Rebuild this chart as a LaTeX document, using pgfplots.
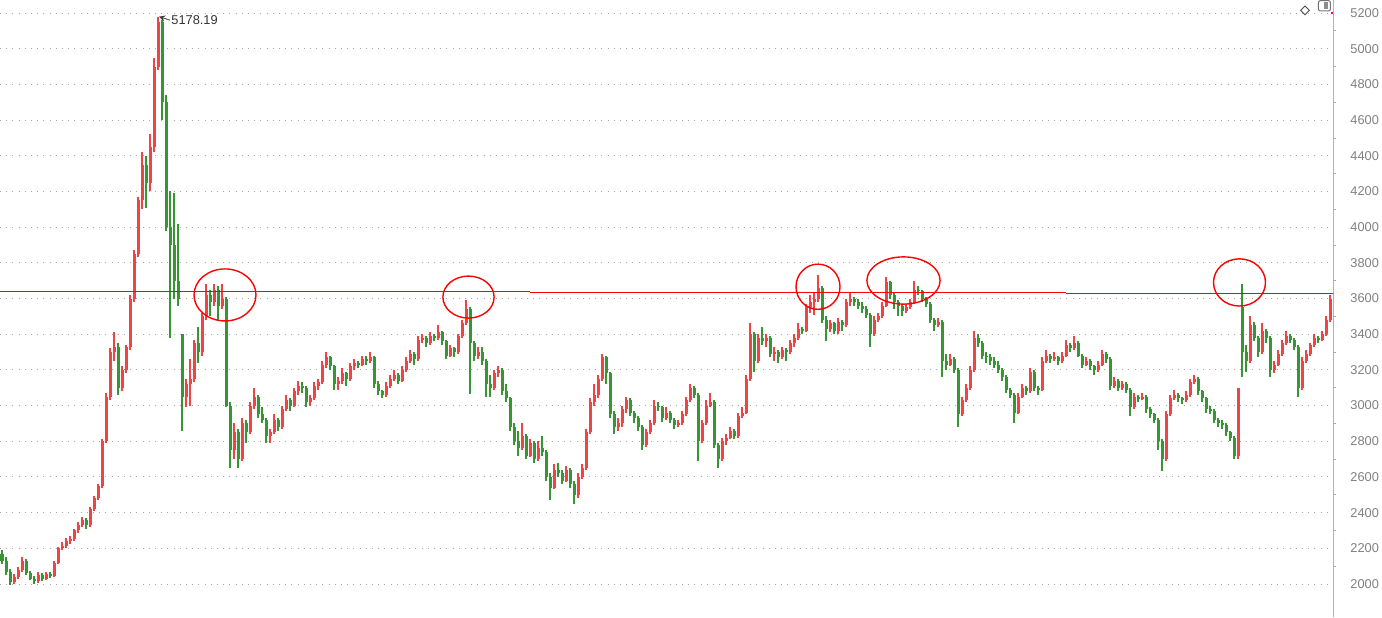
\documentclass[border=0pt]{standalone}
\usepackage{fontspec}
\setmainfont{Liberation Sans}
\usepackage{pgfplots}
\usepackage{pgfplotstable}
\pgfplotsset{compat=1.18}
\definecolor{upc}{RGB}{240,68,68}
\definecolor{dnc}{RGB}{54,150,50}
\definecolor{lab}{RGB}{128,128,128}
\pgfplotstableread{
x o h l c
2 2170 2190 2110 2130
6 2130 2150 2050 2070
10 2070 2085 1995 2010
14 2010 2055 2000 2040
18 2040 2095 2030 2080
22 2080 2150 2070 2130
26 2130 2140 2050 2060
30 2060 2075 2020 2030
34 2030 2045 2000 2015
38 2015 2065 2005 2050
42 2050 2060 2015 2030
46 2030 2070 2020 2055
50 2055 2065 2035 2045
54 2045 2130 2040 2120
58 2120 2210 2110 2200
62 2200 2235 2190 2215
66 2215 2255 2200 2240
70 2240 2270 2225 2250
74 2250 2310 2240 2300
78 2300 2345 2285 2330
82 2330 2375 2320 2360
86 2360 2370 2310 2330
90 2330 2430 2320 2420
94 2420 2495 2410 2480
98 2480 2560 2470 2550
102 2550 2810 2540 2800
106 2800 3070 2790 3050
110 3050 3320 3030 3300
114 3300 3410 3250 3330
118 3330 3350 3060 3100
122 3100 3220 3080 3200
126 3200 3340 3180 3330
130 3330 3620 3310 3600
134 3600 3870 3580 3850
138 3850 4170 3830 4150
142 4150 4420 4100 4350
146 4350 4400 4110 4250
150 4250 4520 4200 4450
154 4450 4950 4420 4900
158 4900 5178 4880 5150
162 5150 5160 4600 4700
166 4700 4740 3980 4000
170 4000 4200 3380 3900
174 3900 4190 3600 3700
178 3700 4020 3560 3600
182 3400 3400 2860 3050
186 3050 3150 2990 3120
190 3120 3260 3000 3150
194 3150 3370 3130 3350
198 3350 3440 3240 3300
202 3300 3520 3280 3500
206 3500 3680 3480 3620
210 3620 3650 3500 3580
214 3580 3680 3560 3650
218 3650 3670 3480 3560
222 3560 3680 3540 3600
226 3600 3610 2990 3000
230 3000 3020 2650 2750
234 2750 2900 2700 2850
238 2850 2870 2650 2700
242 2700 2930 2690 2900
246 2900 2920 2790 2850
250 2850 3020 2840 3000
254 3000 3100 2980 3050
258 3050 3060 2930 2950
262 2950 2990 2900 2920
266 2920 2930 2790 2830
270 2830 2870 2790 2850
274 2850 2950 2840 2920
278 2920 2930 2860 2880
282 2880 3000 2870 2980
286 2980 3060 2970 3030
290 3030 3040 2970 3000
294 3000 3100 2990 3080
298 3080 3140 3060 3110
302 3110 3130 3070 3100
306 3100 3110 2990 3020
310 3020 3060 3000 3040
314 3040 3130 3030 3110
318 3110 3150 3090 3130
322 3130 3250 3120 3230
326 3230 3300 3210 3270
330 3270 3280 3200 3220
334 3220 3230 3090 3120
338 3120 3160 3090 3140
342 3140 3210 3120 3180
346 3180 3190 3110 3150
350 3150 3240 3140 3220
354 3220 3260 3200 3240
358 3240 3250 3210 3230
362 3230 3280 3220 3260
366 3260 3280 3230 3250
370 3250 3300 3240 3270
374 3270 3280 3100 3120
378 3120 3140 3060 3080
382 3080 3090 3040 3060
386 3060 3130 3050 3110
390 3110 3170 3100 3150
394 3150 3200 3140 3170
398 3170 3180 3120 3140
402 3140 3220 3130 3200
406 3200 3270 3190 3250
410 3250 3310 3240 3290
414 3290 3300 3230 3260
418 3260 3390 3250 3370
422 3370 3400 3350 3380
426 3380 3390 3330 3350
430 3350 3410 3340 3390
434 3390 3400 3360 3380
438 3380 3450 3370 3410
442 3410 3420 3340 3360
446 3360 3370 3260 3280
450 3280 3340 3270 3320
454 3320 3330 3270 3300
458 3300 3400 3290 3390
462 3390 3480 3380 3460
466 3460 3590 3450 3540
470 3540 3550 3065 3350
474 3350 3360 3250 3280
478 3280 3330 3260 3300
482 3300 3330 3230 3250
486 3250 3260 3050 3120
490 3120 3170 3050 3100
494 3100 3200 3090 3180
498 3180 3220 3160 3200
502 3200 3210 3060 3080
506 3080 3120 3020 3040
510 3040 3050 2860 2880
514 2880 2900 2780 2800
518 2800 2860 2720 2760
522 2760 2900 2750 2830
526 2830 2840 2700 2720
530 2720 2810 2710 2790
534 2790 2800 2680 2700
538 2700 2800 2690 2760
542 2760 2830 2720 2740
546 2740 2750 2580 2600
550 2600 2620 2470 2540
554 2540 2670 2530 2640
558 2640 2680 2600 2620
562 2620 2640 2560 2580
566 2580 2660 2570 2640
570 2640 2650 2540 2560
574 2560 2580 2450 2500
578 2500 2620 2480 2600
582 2600 2670 2590 2650
586 2650 2870 2640 2850
590 2850 3040 2840 3020
594 3020 3120 3000 3060
598 3060 3170 3040 3150
602 3150 3290 3140 3270
606 3270 3280 3120 3180
610 3180 3190 2930 2950
614 2950 2970 2840 2880
618 2880 2930 2860 2900
622 2900 3000 2880 2980
626 2980 3050 2960 3030
630 3030 3040 2940 2960
634 2960 2970 2900 2930
638 2930 2940 2860 2880
642 2880 2890 2750 2780
646 2780 2870 2770 2850
650 2850 2920 2840 2900
654 2900 3030 2890 3000
658 3000 3020 2970 2990
662 2990 3000 2910 2930
666 2930 2990 2920 2960
670 2960 2970 2900 2920
674 2920 2930 2870 2890
678 2890 2920 2880 2900
682 2900 2970 2890 2950
686 2950 3050 2940 3030
690 3030 3120 3020 3100
694 3100 3110 3040 3060
698 3060 3070 2690 2800
702 2800 2920 2790 2900
706 2900 3030 2890 3000
710 3000 3070 2990 3020
714 3020 3030 2760 2780
718 2780 2790 2650 2700
722 2700 2820 2690 2800
726 2800 2840 2780 2820
730 2820 2880 2810 2860
734 2860 2870 2810 2830
738 2830 2960 2820 2940
742 2940 2990 2930 2960
746 2960 3170 2950 3150
750 3150 3460 3140 3400
754 3400 3410 3190 3250
758 3250 3400 3240 3380
762 3380 3440 3340 3360
766 3360 3400 3330 3380
770 3380 3390 3270 3290
774 3290 3330 3250 3300
778 3300 3310 3240 3270
782 3270 3330 3260 3310
786 3310 3320 3250 3300
790 3300 3370 3290 3350
794 3350 3400 3330 3380
798 3380 3460 3370 3430
802 3430 3440 3400 3420
806 3420 3570 3410 3550
810 3550 3620 3520 3580
814 3580 3630 3510 3600
818 3600 3730 3580 3660
822 3660 3670 3460 3480
826 3480 3500 3360 3430
830 3430 3480 3410 3460
834 3460 3470 3400 3420
838 3420 3490 3400 3470
842 3470 3480 3420 3450
846 3450 3600 3440 3580
850 3580 3630 3560 3600
854 3600 3610 3560 3580
858 3580 3600 3540 3560
862 3560 3580 3520 3540
866 3540 3560 3490 3510
870 3510 3520 3330 3400
874 3400 3500 3390 3480
878 3480 3520 3470 3500
882 3500 3580 3490 3560
886 3560 3720 3550 3690
890 3690 3700 3600 3620
894 3620 3630 3540 3580
898 3580 3590 3500 3560
902 3560 3570 3500 3530
906 3530 3570 3520 3550
910 3550 3600 3540 3580
914 3580 3700 3570 3650
918 3650 3670 3620 3640
922 3640 3650 3580 3600
926 3600 3610 3550 3570
930 3570 3580 3460 3480
934 3480 3490 3420 3450
938 3450 3490 3440 3470
942 3470 3480 3160 3250
946 3250 3290 3200 3230
950 3230 3290 3220 3260
954 3260 3270 3180 3200
958 3200 3210 2880 2950
962 2950 3050 2940 3030
966 3030 3120 3020 3100
970 3100 3220 3090 3200
974 3200 3420 3190 3380
978 3380 3400 3330 3350
982 3350 3360 3260 3280
986 3280 3300 3240 3270
990 3270 3290 3230 3250
994 3250 3270 3210 3230
998 3230 3250 3180 3200
1002 3200 3210 3140 3160
1006 3160 3170 3070 3090
1010 3090 3100 3040 3060
1014 3060 3070 2900 2960
1018 2960 3070 2950 3050
1022 3050 3120 3040 3100
1026 3100 3110 3060 3080
1030 3080 3210 3070 3190
1034 3190 3200 3080 3100
1038 3100 3110 3060 3090
1042 3090 3270 3080 3250
1046 3250 3310 3240 3280
1050 3280 3290 3240 3260
1054 3260 3300 3250 3270
1058 3270 3280 3230 3250
1062 3250 3300 3240 3280
1066 3280 3370 3270 3340
1070 3340 3350 3300 3320
1074 3320 3390 3310 3350
1078 3350 3360 3270 3280
1082 3280 3290 3210 3230
1086 3230 3270 3220 3250
1090 3250 3260 3200 3220
1094 3220 3230 3170 3200
1098 3200 3250 3190 3230
1102 3230 3310 3220 3290
1106 3290 3300 3240 3260
1110 3260 3270 3090 3110
1114 3110 3160 3100 3140
1118 3140 3150 3080 3100
1122 3100 3140 3090 3120
1126 3120 3130 3070 3090
1130 3090 3100 2940 2990
1134 2990 3070 2980 3050
1138 3050 3060 3020 3040
1142 3040 3070 3030 3050
1146 3050 3060 2960 2980
1150 2980 2990 2930 2950
1154 2950 2960 2900 2920
1158 2920 2930 2750 2800
1162 2800 2810 2636 2700
1166 2700 2970 2690 2950
1170 2950 3060 2940 3040
1174 3040 3090 3030 3060
1178 3060 3070 3020 3040
1182 3040 3050 3010 3030
1186 3030 3080 3020 3060
1190 3060 3150 3050 3130
1194 3130 3170 3120 3150
1198 3150 3160 3060 3080
1202 3080 3090 3020 3040
1206 3040 3050 2960 2980
1210 2980 3000 2950 2970
1214 2970 2980 2900 2920
1218 2920 2930 2880 2900
1222 2900 2920 2870 2890
1226 2890 2900 2830 2850
1230 2850 2860 2800 2820
1234 2820 2830 2700 2720
1238 2720 3100 2700 3100
1242 3550 3682 3160 3300
1246 3300 3340 3190 3250
1250 3250 3500 3240 3450
1254 3450 3470 3360 3380
1258 3380 3390 3270 3300
1262 3300 3460 3290 3420
1266 3420 3430 3350 3380
1270 3380 3390 3160 3200
1274 3200 3250 3180 3230
1278 3230 3310 3220 3290
1282 3290 3370 3280 3350
1286 3350 3420 3340 3390
1290 3390 3400 3350 3370
1294 3370 3380 3310 3330
1298 3330 3340 3047 3100
1302 3100 3270 3090 3250
1306 3250 3310 3240 3290
1310 3290 3350 3280 3340
1314 3340 3400 3330 3380
1318 3380 3390 3350 3370
1322 3370 3420 3360 3400
1326 3400 3500 3390 3480
1330 3480 3620 3470 3600
}\candles
\begin{document}
\begin{tikzpicture}
\begin{axis}[
  at={(0,0)}, anchor=south west,
  scale only axis, width=666.5pt, height=308.5pt,
  xmin=0, xmax=1333, ymin=1815, ymax=5273,
  clip=false,
  axis x line=none, axis y line*=right,
  axis line style={draw=black!30, line width=0.5pt},
  ytick={2000,2200,...,5200},
  minor y tick num=1,
  tick align=outside,
  major tick length=0pt, minor tick length=1.6pt,
  tick style={black!35, line width=0.4pt},
  ymajorgrids,
  major grid style={black!35, line width=0.45pt, dash pattern=on 0.5pt off 2.6pt},
  yticklabel style={font=\fontsize{6.4}{7}\selectfont, text=lab, anchor=west, inner sep=0pt, xshift=8.5pt},
  /pgf/number format/1000 sep={},
  /pgf/number format/assume math mode=true,
  unbounded coords=discard,
]
% wicks
\addplot[draw=none, mark=none,
  restrict expr to domain={\thisrow{c}-\thisrow{o}}{0:100000},
  error bars/.cd, y dir=both, y explicit, error mark=none,
  error bar style={draw=upc, solid, line width=0.6pt}]
  table[x=x, y expr={(\thisrow{h}+\thisrow{l})/2}, y error expr={(\thisrow{h}-\thisrow{l})/2}] {\candles};
\addplot[draw=none, mark=none,
  restrict expr to domain={\thisrow{c}-\thisrow{o}}{-100000:-0.5},
  error bars/.cd, y dir=both, y explicit, error mark=none,
  error bar style={draw=dnc, solid, line width=0.6pt}]
  table[x=x, y expr={(\thisrow{h}+\thisrow{l})/2}, y error expr={(\thisrow{h}-\thisrow{l})/2}] {\candles};
% bodies
\addplot[draw=none, mark=none,
  restrict expr to domain={\thisrow{c}-\thisrow{o}}{0:100000},
  error bars/.cd, y dir=both, y explicit, error mark=none,
  error bar style={draw=upc, solid, line width=1.5pt}]
  table[x=x, y expr={(\thisrow{o}+\thisrow{c})/2}, y error expr={abs(\thisrow{c}-\thisrow{o})/2}] {\candles};
\addplot[draw=none, mark=none,
  restrict expr to domain={\thisrow{c}-\thisrow{o}}{-100000:-0.5},
  error bars/.cd, y dir=both, y explicit, error mark=none,
  error bar style={draw=dnc, solid, line width=1.5pt}]
  table[x=x, y expr={(\thisrow{o}+\thisrow{c})/2}, y error expr={abs(\thisrow{c}-\thisrow{o})/2}] {\candles};
% resistance line
\addplot[red, line width=0.55pt] coordinates {(0,3638) (530,3638)};
\addplot[red, line width=0.55pt] coordinates {(530,3635) (1066,3635)};
\addplot[red, line width=0.55pt] coordinates {(1066,3630) (1333,3630)};
% circles
\draw[red, line width=0.7pt] (axis cs:225,3620) ellipse [x radius=15.5pt, y radius=13pt];
\draw[red, line width=0.7pt] (axis cs:468.5,3608) ellipse [x radius=12.8pt, y radius=10.5pt];
\draw[red, line width=0.7pt] (axis cs:818,3666) ellipse [x radius=11pt, y radius=11.3pt];
\draw[red, line width=0.7pt] (axis cs:903.5,3701) ellipse [x radius=18.3pt, y radius=11.8pt];
\draw[red, line width=0.7pt] (axis cs:1239.5,3690) ellipse [x radius=13pt, y radius=11.8pt];
% peak label
\draw[black!75, line width=0.4pt, ->, >=stealth] (axis cs:170,5160) -- (axis cs:159,5180);
\node[anchor=west, inner sep=0pt, font=\fontsize{6.4}{7}\selectfont, text=black!80] at (axis cs:171,5161) {5178.19};
\end{axis}
% icons (1px = 0.5pt; y from top = 617px)
\draw[black!70, line width=0.4pt] (652.5pt,305.5pt) -- (654.7pt,303.3pt) -- (652.5pt,301.1pt) -- (650.3pt,303.3pt) -- cycle;
\draw[black!55, line width=0.5pt, rounded corners=1pt] (659.2pt,308.2pt) rectangle (665.2pt,303pt);
\fill[black!45] (661.8pt,307.3pt) rectangle (664.2pt,303.9pt);
\fill[magenta] (665.5pt,302.5pt) rectangle (666.5pt,301.5pt);
\pgfresetboundingbox
\useasboundingbox (0,0) rectangle (691pt,308.5pt);
\end{tikzpicture}
\end{document}
